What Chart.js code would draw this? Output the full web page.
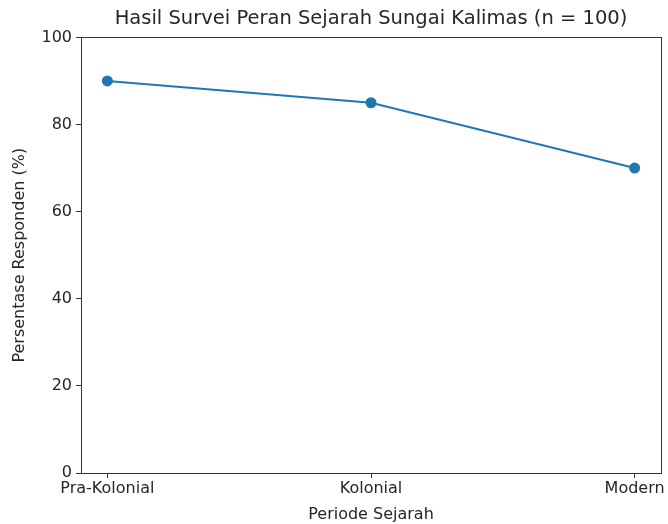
<!DOCTYPE html>
<html>
<head>
<meta charset="utf-8">
<script src="https://cdn.jsdelivr.net/npm/chart.js@4.4.1/dist/chart.umd.min.js"></script>
<style>
  html, body { margin: 0; padding: 0; background: #fff; }
  #wrap { width: 668px; height: 524px; }
</style>
</head>
<body>
<div id="wrap"><canvas id="chart" width="668" height="524"></canvas></div>
<script>
// data
const periods = ['Pra-Kolonial', 'Kolonial', 'Modern'];
const percentages = [90, 85, 70];
const yTicks = [0, 20, 40, 60, 80, 100];

const FONT = 'DejaVu Sans';
const TXT = '#262626';

// box around the plot area (matplotlib style spines)
const frame = {
  id: 'frame',
  afterDraw(chart) {
    const a = chart.chartArea, c = chart.ctx;
    c.save();
    c.strokeStyle = '#333';
    c.lineWidth = 1;
    c.strokeRect(Math.round(a.left) + 0.5, Math.round(a.top) + 0.5,
      Math.round(a.right - a.left), Math.round(a.bottom - a.top));
    c.restore();
  }
};

const ctx = document.getElementById('chart').getContext('2d');
new Chart(ctx, {
  type: 'line',
  data: {
    datasets: [{
      data: percentages.map((v, i) => ({ x: i, y: v })),
      borderColor: '#1f77b4',
      backgroundColor: '#1f77b4',
      borderWidth: 2,
      pointRadius: 5.5,
      pointHoverRadius: 5.5,
      pointBorderWidth: 0,
      tension: 0
    }]
  },
  options: {
    responsive: false,
    animation: false,
    layout: { padding: { left: 0, right: 7, top: 0, bottom: 0 } },
    plugins: {
      legend: { display: false },
      tooltip: { enabled: false },
      title: {
        display: true,
        fullSize: false,
        text: 'Hasil Survei Peran Sejarah Sungai Kalimas (n = 100)',
        color: TXT,
        font: { family: FONT, size: 19.5, weight: 'normal' },
        padding: { top: 7, bottom: 7 }
      }
    },
    scales: {
      x: {
        type: 'linear',
        min: -0.1,
        max: 2.1,
        afterBuildTicks(s) { s.ticks = periods.map((_, i) => ({ value: i })); },
        afterFit(s) { s.height = 51; },
        ticks: {
          color: TXT,
          font: { family: FONT, size: 16 },
          padding: 1,
          maxRotation: 0,
          autoSkip: false,
          callback: v => periods[v]
        },
        grid: { drawOnChartArea: false, drawTicks: true, tickLength: 5, color: '#333' },
        border: { display: false },
        title: {
          display: true,
          text: 'Periode Sejarah',
          color: TXT,
          font: { family: FONT, size: 16 },
          padding: { top: 0, bottom: 0 }
        }
      },
      y: {
        min: 0,
        max: 100,
        afterBuildTicks(s) { s.ticks = yTicks.map(v => ({ value: v })); },
        afterFit(s) { s.width = 81; },
        ticks: {
          color: TXT,
          font: { family: FONT, size: 16 },
          padding: 4
        },
        grid: { drawOnChartArea: false, drawTicks: true, tickLength: 5, color: '#333' },
        border: { display: false },
        title: {
          display: true,
          text: 'Persentase Responden (%)',
          color: TXT,
          font: { family: FONT, size: 16 },
          padding: { top: 10, bottom: 6 }
        }
      }
    }
  },
  plugins: [frame]
});
</script>
</body>
</html>
